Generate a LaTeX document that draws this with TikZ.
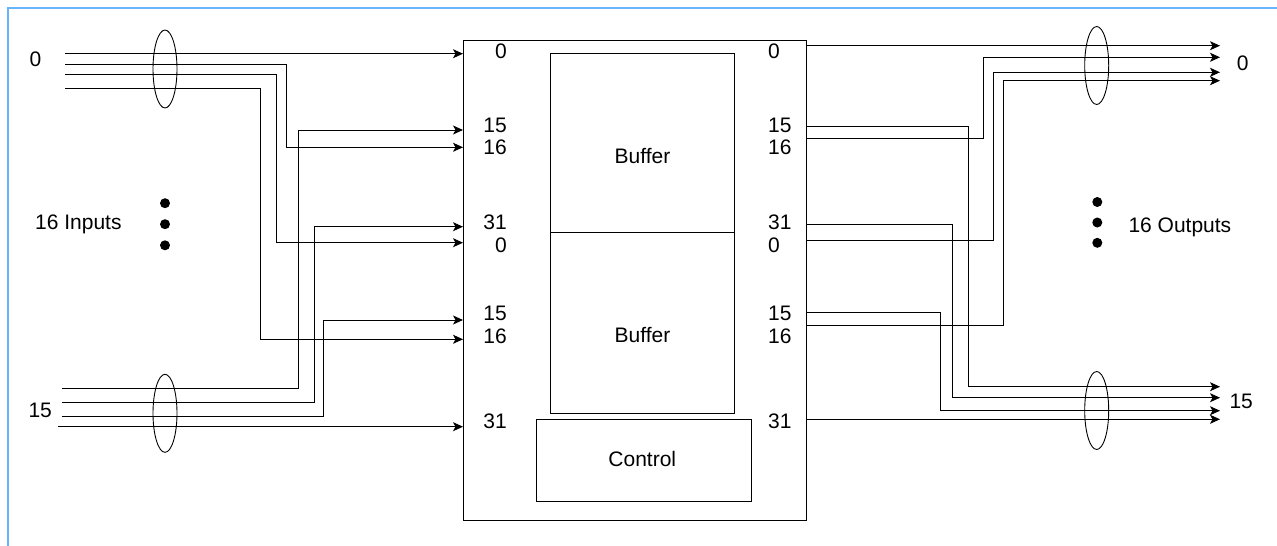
\documentclass[tikz,border=0pt]{standalone}
\usepackage{fontspec}
\setmainfont{Liberation Sans}
\usetikzlibrary{arrows.meta,shapes.geometric}
\definecolor{frameblue}{RGB}{102,181,250}
\tikzset{
  wire/.style={line width=0.9pt,draw=black},
  arrowwire/.style={wire,-{Stealth[length=10pt,width=9pt,inset=2.5pt]}},
  block/.style={draw,line width=0.9pt,rectangle,inner sep=0pt},
  bundle/.style={draw,line width=0.9pt,ellipse,inner sep=0pt,minimum width=24pt,minimum height=78pt},
  dot/.style={circle,fill=black,inner sep=0pt,minimum size=10pt},
  lbl/.style={inner sep=0pt,font=\fontsize{21}{25}\selectfont},
}
\begin{document}
\begin{tikzpicture}[x=1pt,y=-1pt]
\useasboundingbox (0,0) rectangle (1277,546);
% frame
\draw[frameblue,line width=2pt] (8,546) -- (8,8) -- (1277,8);

% switch body
\node[block,minimum width=343pt,minimum height=480pt] (body) at (634.5,280) {};
\node[block,minimum width=183.6pt,minimum height=179pt] (buf1) at (642.5,142.8) {};
\node[block,minimum width=183.6pt,minimum height=181pt] (buf2) at (642.5,322.8) {};
\node[block,minimum width=215.7pt,minimum height=82.4pt] (ctrl) at (643.8,460.5) {};
\node[lbl,anchor=base] (buf1t) at (642.5,163) {Buffer};
\node[lbl,anchor=base] (buf2t) at (642.5,342.7) {Buffer};
\node[lbl,anchor=base] (ctrlt) at (642.3,466.7) {Control};

% port numbers
\foreach \n/\t/\y in {a/0/58.3,b/15/132.7,c/16/154.3,d/31/229.3,e/0/252.3,f/15/320,g/16/343.3,h/31/428.3}{
  \node[lbl,anchor=base east] (li\n) at (507,\y) {\t};
  \node[lbl,anchor=base west] (ri\n) at (768,\y) {\t};
}

% input ends
\coordinate (in0a) at (65,53.7);
\coordinate (in0b) at (65,64.3);
\coordinate (in0c) at (65,74.3);
\coordinate (in0d) at (65,88.3);
\coordinate (in15a) at (61.7,388.3);
\coordinate (in15b) at (61.7,402.7);
\coordinate (in15c) at (61.7,416.7);
\coordinate (in15d) at (58.3,426.7);
% body input ports
\coordinate (pL0) at (463,53.7);
\coordinate (pL15) at (463,130);
\coordinate (pL16) at (463,147.3);
\coordinate (pL31) at (463,226.7);
\coordinate (pL0b) at (463,242.7);
\coordinate (pL15b) at (463,320);
\coordinate (pL16b) at (463,339.3);
\coordinate (pL31b) at (463,426.7);
% body output ports
\coordinate (pR0) at (806,45.7);
\coordinate (pR15) at (806,126);
\coordinate (pR16) at (806,138.3);
\coordinate (pR31) at (806,224.3);
\coordinate (pR0b) at (806,240.3);
\coordinate (pR15b) at (806,312.7);
\coordinate (pR16b) at (806,325.3);
\coordinate (pR31b) at (806,419.3);
% output ends
\coordinate (out0a) at (1220,45.7);
\coordinate (out0b) at (1220,57.3);
\coordinate (out0c) at (1220,72.3);
\coordinate (out0d) at (1220,80.7);
\coordinate (out15a) at (1220,386.7);
\coordinate (out15b) at (1220,397.7);
\coordinate (out15c) at (1220,410.7);
\coordinate (out15d) at (1220,419.3);
% vertical runs
\coordinate (v16) at (286.7,0);
\coordinate (v0b) at (276.7,0);
\coordinate (v16b) at (260,0);
\coordinate (v15) at (298.3,0);
\coordinate (v31) at (314.3,0);
\coordinate (v15b) at (323.3,0);
\coordinate (w15) at (968.3,0);
\coordinate (w16) at (983.3,0);
\coordinate (w31) at (952.3,0);
\coordinate (w0b) at (993.3,0);
\coordinate (w15b) at (940,0);
\coordinate (w16b) at (1003.3,0);

% input wiring
\draw[arrowwire] (in0a) -- (pL0);
\draw[arrowwire] (in0b) -- (in0b -| v16) |- (pL16);
\draw[arrowwire] (in0c) -- (in0c -| v0b) |- (pL0b);
\draw[arrowwire] (in0d) -- (in0d -| v16b) |- (pL16b);
\draw[arrowwire] (in15a) -- (in15a -| v15) |- (pL15);
\draw[arrowwire] (in15b) -- (in15b -| v31) |- (pL31);
\draw[arrowwire] (in15c) -- (in15c -| v15b) |- (pL15b);
\draw[arrowwire] (in15d) -- (pL31b);

% output wiring
\draw[arrowwire] (pR0) -- (out0a);
\draw[arrowwire] (pR16) -- (pR16 -| w16) |- (out0b);
\draw[arrowwire] (pR0b) -- (pR0b -| w0b) |- (out0c);
\draw[arrowwire] (pR16b) -- (pR16b -| w16b) |- (out0d);
\draw[arrowwire] (pR15) -- (pR15 -| w15) |- (out15a);
\draw[arrowwire] (pR31) -- (pR31 -| w31) |- (out15b);
\draw[arrowwire] (pR15b) -- (pR15b -| w15b) |- (out15c);
\draw[arrowwire] (pR31b) -- (out15d);

% bundles
\node[bundle] (eL0) at (165,69) {};
\node[bundle] (eL15) at (165,413.3) {};
\node[bundle] (eR0) at (1096.7,65.5) {};
\node[bundle] (eR15) at (1096.7,410.5) {};

% ellipsis dots
\node[dot] (dl1) at (165,203.2) {};
\node[dot] (dl2) at (165,224.2) {};
\node[dot] (dl3) at (165,245.3) {};
\node[dot] (dr1) at (1097.3,202) {};
\node[dot] (dr2) at (1097.3,222.5) {};
\node[dot] (dr3) at (1097.3,242.8) {};

% group labels
\node[lbl,anchor=base west] (lin0) at (29.3,66) {0};
\node[lbl,anchor=base west] (lin15) at (28.3,417.3) {15};
\node[lbl,anchor=base west] (lins) at (35,229.3) {16 Inputs};
\node[lbl,anchor=base west] (lout0) at (1236.7,70.7) {0};
\node[lbl,anchor=base west] (lout15) at (1229.3,408.3) {15};
\node[lbl,anchor=base west] (louts) at (1128.3,232.7) {16 Outputs};
\end{tikzpicture}
\end{document}
